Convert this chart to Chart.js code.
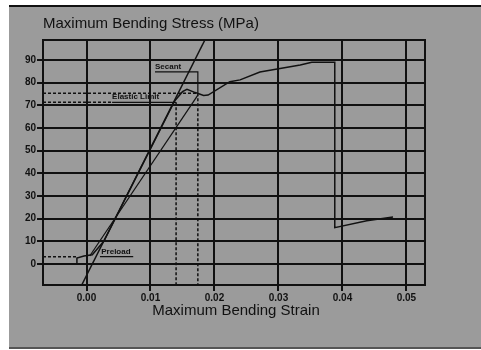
<!DOCTYPE html>
<html>
<head>
<meta charset="utf-8">
<script src="https://cdn.jsdelivr.net/npm/chart.js@4"></script>
<style>
  html, body { margin: 0; padding: 0; background: #fff; }
  #wrap { width: 481px; height: 350px; }
</style>
</head>
<body>
<div id="wrap"><canvas id="stressChart" width="481" height="350"></canvas></div>
<script>
// axis ranges and ticks
const xMin = -0.0068, xMax = 0.0529;
const yMin = -9.3, yMax = 98.8;
const xTicks = [0, 0.01, 0.02, 0.03, 0.04, 0.05];
const yTicks = [0, 10, 20, 30, 40, 50, 60, 70, 80, 90];

// measured curve (strain / stress)
const curveStrain = [-0.0016, -0.0015, -0.0004, 0.0009, 0.0027, 0.0138, 0.0150, 0.0157, 0.0170, 0.0183, 0.0190, 0.0224, 0.0240, 0.0271, 0.0334, 0.0352, 0.0385, 0.0388, 0.0388, 0.0438, 0.0479];
const curveStress = [0.4, 2.6, 3.5, 4.0, 10, 72, 76, 77, 75.6, 74.3, 74.5, 80.4, 81.2, 84.7, 87.8, 89, 89, 89, 16, 19, 20.7];

// elastic modulus line and secant line
const modulusStrain = [-0.00075, 0.0185];
const modulusStress = [-9.3, 98.8];
const secantStrain = [0.0005, 0.0174];
const secantStress = [3.5, 74.5];

// reference levels
const elasticStress = 71.3, elasticStrain = 0.0140;
const secantLevel = 75.3, secantPtStrain = 0.0174;
const preloadStress = 3.2;

// annotation texts: [text, strain, stress]
const notes = [
  ['Secant', 0.0107, 86.2],
  ['Elastic Limit', 0.0040, 72.6],
  ['Preload', 0.0023, 4.5]
];

function pts(xs, ys) {
  return xs.map((x, i) => ({ x: x, y: ys[i] }));
}

function line(data, dashed, width) {
  return {
    data: data,
    borderColor: '#111',
    borderWidth: width || 1.5,
    borderDash: dashed ? [3, 2] : [],
    pointRadius: 0,
    tension: 0,
    fill: false
  };
}

const datasets = [
  line(pts(curveStrain, curveStress), false, 1.5),
  line(pts(modulusStrain, modulusStress), false, 1.5),
  line(pts(secantStrain, secantStress), false, 1.2),
  // elastic limit
  line([{ x: xMin, y: elasticStress }, { x: 0.0040, y: elasticStress }], true),
  line([{ x: 0.0040, y: elasticStress }, { x: elasticStrain, y: elasticStress }], false, 1.2),
  line([{ x: elasticStrain, y: elasticStress }, { x: elasticStrain, y: yMin }], true),
  // secant point
  line([{ x: xMin, y: secantLevel }, { x: secantPtStrain, y: secantLevel }], true),
  line([{ x: 0.0107, y: 84.7 }, { x: secantPtStrain, y: 84.7 }, { x: secantPtStrain, y: secantLevel }], false, 1.2),
  line([{ x: secantPtStrain, y: secantLevel }, { x: secantPtStrain, y: yMin }], true),
  // preload
  line([{ x: xMin, y: preloadStress }, { x: -0.0015, y: preloadStress }], true),
  line([{ x: 0.0021, y: preloadStress }, { x: 0.0073, y: preloadStress }], false, 1.2)
];

const panel = {
  id: 'panel',
  beforeDraw(chart) {
    const c = chart.ctx;
    c.save();
    c.fillStyle = '#fff';
    c.fillRect(0, 0, 481, 350);
    c.fillStyle = '#9b9b9b';
    c.fillRect(9, 5, 472, 344);
    c.fillStyle = '#111';
    c.fillRect(9, 5, 472, 2);
    c.fillStyle = '#555';
    c.fillRect(9, 347, 472, 2);
    c.restore();
  },
  beforeDatasetsDraw(chart) {
    const a = chart.chartArea, c = chart.ctx;
    c.save();
    c.strokeStyle = '#111';
    c.lineWidth = 2;
    c.strokeRect(a.left, a.top, a.right - a.left, a.bottom - a.top);
    c.restore();
  },
  afterDraw(chart) {
    const c = chart.ctx, xs = chart.scales.x, ys = chart.scales.y;
    c.save();
    c.fillStyle = '#111';
    c.textBaseline = 'middle';
    c.font = '15px "Liberation Sans", Arial, sans-serif';
    c.textAlign = 'left';
    c.fillText('Maximum Bending Stress (MPa)', 43, 24);
    c.textAlign = 'center';
    c.fillText('Maximum Bending Strain', 236, 311);
    c.font = 'bold 8px "Liberation Sans", Arial, sans-serif';
    c.textAlign = 'left';
    c.textBaseline = 'alphabetic';
    notes.forEach(n => {
      c.fillText(n[0], xs.getPixelForValue(n[1]), ys.getPixelForValue(n[2]));
    });
    c.restore();
  }
};

new Chart(document.getElementById('stressChart'), {
  type: 'line',
  data: { datasets: datasets },
  options: {
    responsive: false,
    animation: false,
    layout: { padding: { left: 0, top: 40, right: 56, bottom: 0 } },
    plugins: { legend: { display: false }, tooltip: { enabled: false } },
    scales: {
      x: {
        type: 'linear',
        min: xMin,
        max: xMax,
        afterBuildTicks(s) { s.ticks = xTicks.map(v => ({ value: v })); },
        afterFit(s) { s.height = 65; },
        grid: { color: '#111', lineWidth: 2, tickLength: 6, tickColor: '#111' },
        border: { display: false },
        ticks: {
          color: '#111',
          padding: 1,
          maxRotation: 0,
          font: { family: '"Liberation Sans", Arial, sans-serif', size: 10, weight: 'bold' },
          callback: v => v.toFixed(2)
        }
      },
      y: {
        type: 'linear',
        min: yMin,
        max: yMax,
        afterBuildTicks(s) { s.ticks = yTicks.map(v => ({ value: v })); },
        afterFit(s) { s.width = 43; },
        grid: { color: '#111', lineWidth: 2, tickLength: 6, tickColor: '#111' },
        border: { display: false },
        ticks: {
          color: '#111',
          padding: 1,
          font: { family: '"Liberation Sans", Arial, sans-serif', size: 10, weight: 'bold' },
          callback: v => String(v)
        }
      }
    }
  },
  plugins: [panel]
});
</script>
</body>
</html>
